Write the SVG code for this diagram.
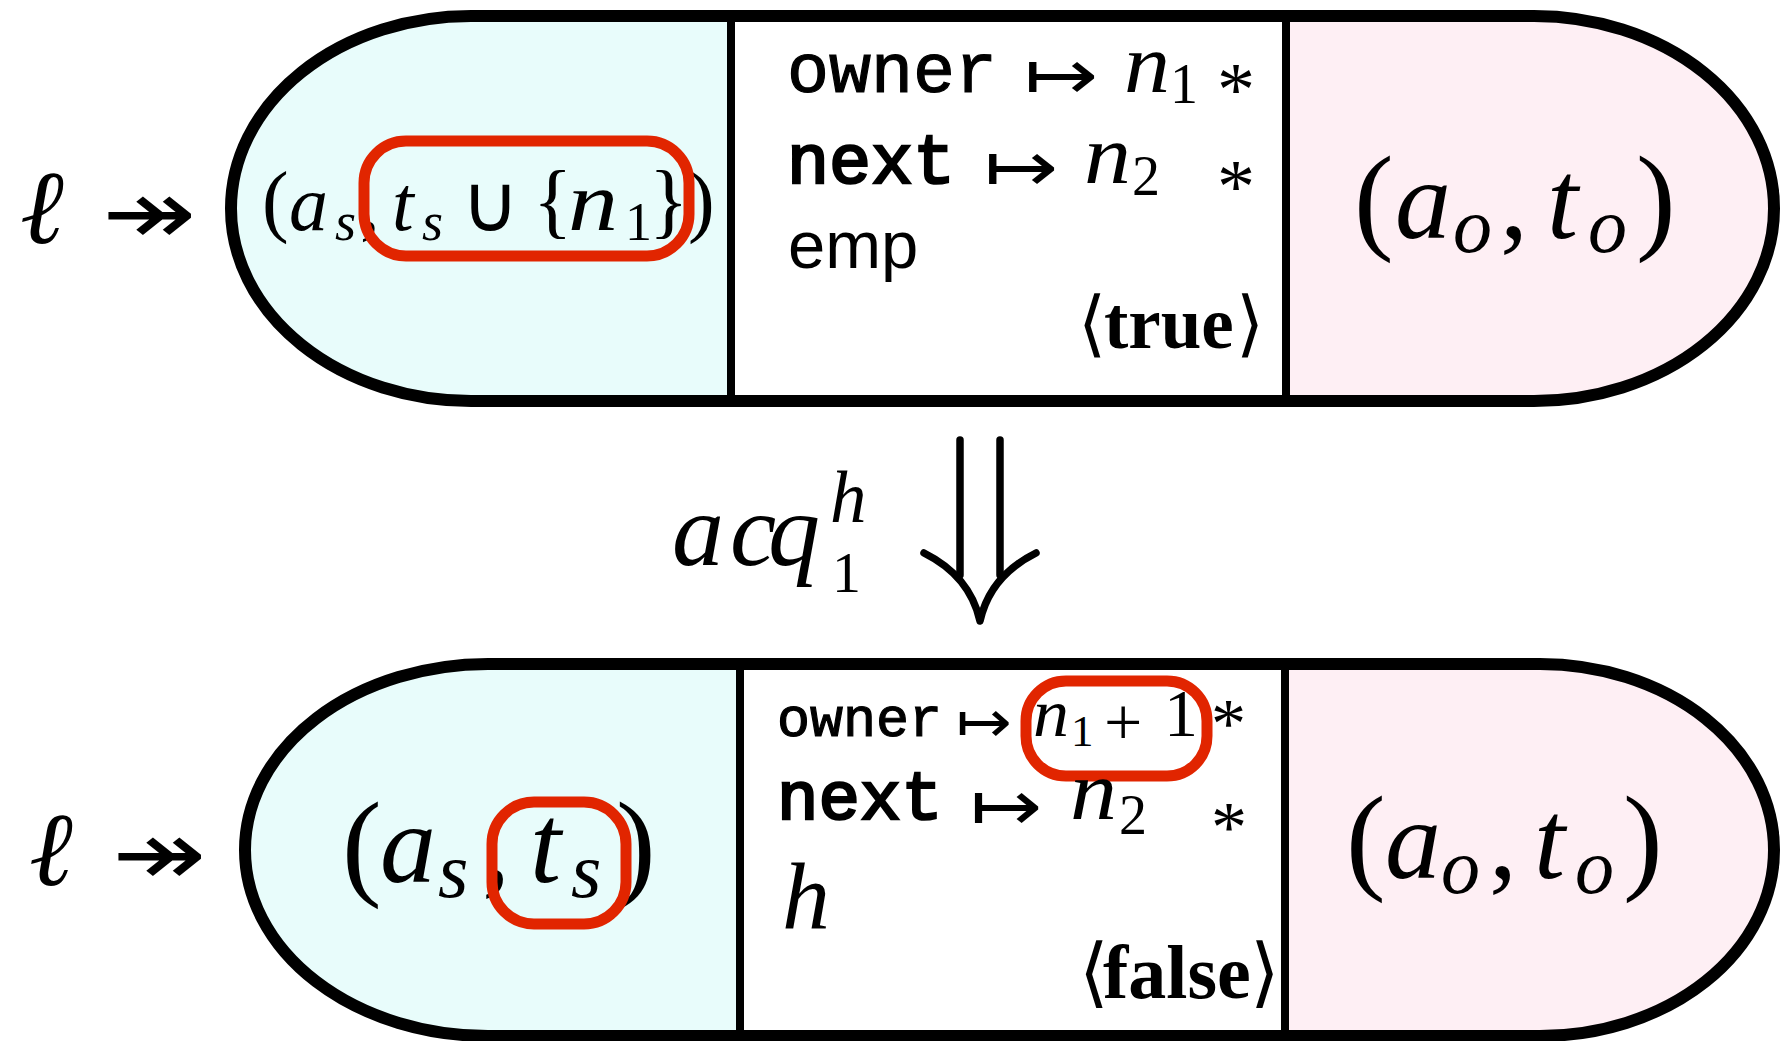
<svg xmlns="http://www.w3.org/2000/svg" width="1782" height="1041" viewBox="0 0 1782 1041">
<style>
.m{font-family:"Liberation Serif","DejaVu Serif",serif;font-style:italic;fill:#000}
.r{font-family:"Liberation Serif","DejaVu Serif",serif;fill:#000}
.bf{font-family:"Liberation Serif","DejaVu Serif",serif;font-weight:bold;fill:#000}
.sym{font-family:"DejaVu Sans",sans-serif;font-weight:200;fill:#000}
.tt{font-family:"Liberation Mono","DejaVu Sans Mono",monospace;fill:#000;stroke:#000;stroke-width:1.2}
.ttb{font-family:"Liberation Mono","DejaVu Sans Mono",monospace;fill:#000;stroke:#000;stroke-width:2.6}
.sf{font-family:"Liberation Sans","DejaVu Sans",sans-serif;fill:#000}
.outline{fill:none;stroke:#000;stroke-width:12}
.div{stroke:#000;stroke-width:8}
.cyan{fill:#E8FCFB}
.pink{fill:#FEEFF4}
.hl{fill:none;stroke:#E12500;stroke-width:11}
.arr{fill:none;stroke:#000;stroke-width:7.5;stroke-linecap:round;stroke-linejoin:round}
</style>
<defs>
<path id="p1" d="M 471 16 H 1534 A 240 192.5 0 0 1 1774 208.5 A 240 192.5 0 0 1 1534 401 H 471 A 240 192.5 0 0 1 231 208.5 A 240 192.5 0 0 1 471 16 Z"/>
<path id="p2" d="M 488 664 H 1540 A 234 186 0 0 1 1774 850 A 234 186 0 0 1 1540 1036 H 488 A 243 186 0 0 1 245 850 A 243 186 0 0 1 488 664 Z"/>
<clipPath id="c1"><use href="#p1"/></clipPath>
<clipPath id="c2"><use href="#p2"/></clipPath>
</defs>
<rect width="1782" height="1041" fill="#fff"/>

<g id="top-state">
<use href="#p1" fill="#fff"/>
<g clip-path="url(#c1)">
<rect class="cyan" x="0" y="0" width="731" height="420"/>
<rect class="pink" x="1286" y="0" width="500" height="420"/>
</g>
<line class="div" x1="731" y1="16" x2="731" y2="401"/>
<line class="div" x1="1286" y1="16" x2="1286" y2="401"/>
<use href="#p1" class="outline"/>
<text class="m" x="20" y="243" font-size="105">ℓ</text>
<text class="sym" x="102" y="244" font-size="90" textLength="94" lengthAdjust="spacingAndGlyphs">↠</text>
<g id="top-shared">
<text class="r" x="262" y="227" font-size="80">(</text>
<text class="m" x="289" y="230" font-size="78">a</text>
<text class="m" x="335" y="240" font-size="54">s</text>
<text class="r" x="360" y="230" font-size="78">,</text>
<text class="m" x="392" y="230" font-size="78">t</text>
<text class="m" x="422" y="240" font-size="54">s</text>
<text class="sym" x="461" y="231" font-size="80">∪</text>
<text class="r" x="533" y="228" font-size="82">{</text>
<text class="m" x="568" y="230" font-size="84" textLength="50" lengthAdjust="spacingAndGlyphs">n</text>
<text class="r" x="625" y="240" font-size="54">1</text>
<text class="r" x="649" y="228" font-size="82">}</text>
<text class="r" x="688" y="227" font-size="80">)</text>
<rect class="hl" x="364" y="141" width="325" height="115" rx="42"/>
</g>
<g id="top-heap">
<text class="tt" x="787" y="92" font-size="70">owner</text>
<text class="sym" x="1024" y="100" font-size="72" textLength="74" lengthAdjust="spacingAndGlyphs">↦</text>
<text class="m" x="1124" y="92" font-size="84" textLength="46" lengthAdjust="spacingAndGlyphs">n</text>
<text class="r" x="1170" y="103" font-size="56">1</text>
<text class="r" x="1217" y="115" font-size="76">*</text>
<text class="ttb" x="787" y="183" font-size="70">next</text>
<text class="sym" x="984" y="192" font-size="72" textLength="74" lengthAdjust="spacingAndGlyphs">↦</text>
<text class="m" x="1084" y="183" font-size="84" textLength="47" lengthAdjust="spacingAndGlyphs">n</text>
<text class="r" x="1132" y="195" font-size="56">2</text>
<text class="r" x="1217" y="212" font-size="76">*</text>
<text class="sf" x="788" y="268" font-size="67">emp</text>
<text class="sym" x="1078" y="348" font-size="72">⟨</text>
<text class="bf" x="1104" y="348" font-size="73">true</text>
<text class="sym" x="1236" y="348" font-size="72">⟩</text>
</g>
<g id="top-own">
<text class="r" x="1354" y="238" font-size="119">(</text>
<text class="m" x="1395" y="238" font-size="112">a</text>
<text class="m" x="1453" y="252" font-size="78">o</text>
<text class="r" x="1500" y="238" font-size="112">,</text>
<text class="m" x="1547" y="238" font-size="112">t</text>
<text class="m" x="1588" y="252" font-size="78">o</text>
<text class="r" x="1636" y="238" font-size="119">)</text>
</g>
</g>

<g id="bottom-state">
<use href="#p2" fill="#fff"/>
<g clip-path="url(#c2)">
<rect class="cyan" x="0" y="640" width="740" height="420"/>
<rect class="pink" x="1285" y="640" width="500" height="420"/>
</g>
<line class="div" x1="740" y1="664" x2="740" y2="1036"/>
<line class="div" x1="1285" y1="664" x2="1285" y2="1036"/>
<use href="#p2" class="outline"/>
<text class="m" x="29" y="885" font-size="105">ℓ</text>
<text class="sym" x="112" y="885" font-size="90" textLength="94" lengthAdjust="spacingAndGlyphs">↠</text>
<g id="bottom-shared">
<text class="r" x="342" y="884" font-size="119">(</text>
<text class="m" x="380" y="882" font-size="112">a</text>
<text class="m" x="438" y="897" font-size="78">s</text>
<text class="r" x="482" y="882" font-size="112">,</text>
<text class="m" x="530" y="882" font-size="112">t</text>
<text class="m" x="571" y="897" font-size="78">s</text>
<text class="r" x="616" y="884" font-size="119">)</text>
<rect class="hl" x="492" y="802" width="134" height="122" rx="42"/>
</g>
<g id="bottom-heap">
<text class="tt" x="777" y="736" font-size="55">owner</text>
<text class="sym" x="956" y="741" font-size="56" textLength="56" lengthAdjust="spacingAndGlyphs">↦</text>
<text class="m" x="1033" y="736" font-size="68" textLength="36" lengthAdjust="spacingAndGlyphs">n</text>
<text class="r" x="1071" y="746" font-size="45">1</text>
<text class="r" x="1104" y="745" font-size="68">+</text>
<text class="r" x="1164" y="736" font-size="68">1</text>
<text class="r" x="1211" y="747" font-size="70">*</text>
<rect class="hl" x="1026" y="681" width="181" height="95" rx="40"/>
<text class="ttb" x="777" y="819" font-size="69">next</text>
<text class="sym" x="970" y="831" font-size="72" textLength="72" lengthAdjust="spacingAndGlyphs">↦</text>
<text class="m" x="1070" y="819" font-size="84" textLength="47" lengthAdjust="spacingAndGlyphs">n</text>
<text class="r" x="1119" y="834" font-size="56">2</text>
<text class="r" x="1211" y="851" font-size="72">*</text>
<text class="m" x="782" y="929" font-size="96">h</text>
<text class="sym" x="1079" y="998" font-size="76">⟨</text>
<text class="bf" x="1103" y="998" font-size="76">false</text>
<text class="sym" x="1250" y="998" font-size="76">⟩</text>
</g>
<g id="bottom-own">
<text class="r" x="1346" y="878" font-size="119">(</text>
<text class="m" x="1385" y="878" font-size="112">a</text>
<text class="m" x="1441" y="893" font-size="78">o</text>
<text class="r" x="1489" y="878" font-size="112">,</text>
<text class="m" x="1534" y="878" font-size="112">t</text>
<text class="m" x="1575" y="893" font-size="78">o</text>
<text class="r" x="1623" y="878" font-size="119">)</text>
</g>
</g>

<g id="connectors">
<line class="arr" x1="960" y1="440" x2="960" y2="575"/>
<line class="arr" x1="1000" y1="440" x2="1000" y2="575"/>
<path class="arr" d="M 924 553 Q 970 576 980 621 Q 990 576 1036 553"/>
<g id="label-acq">
<text class="m" x="672" y="565" font-size="104">a</text>
<text class="m" x="730" y="565" font-size="104">c</text>
<text class="m" x="768" y="565" font-size="104">q</text>
<text class="m" x="830" y="522" font-size="73">h</text>
<text class="r" x="832" y="592" font-size="58">1</text>
</g>
</g>
</svg>
